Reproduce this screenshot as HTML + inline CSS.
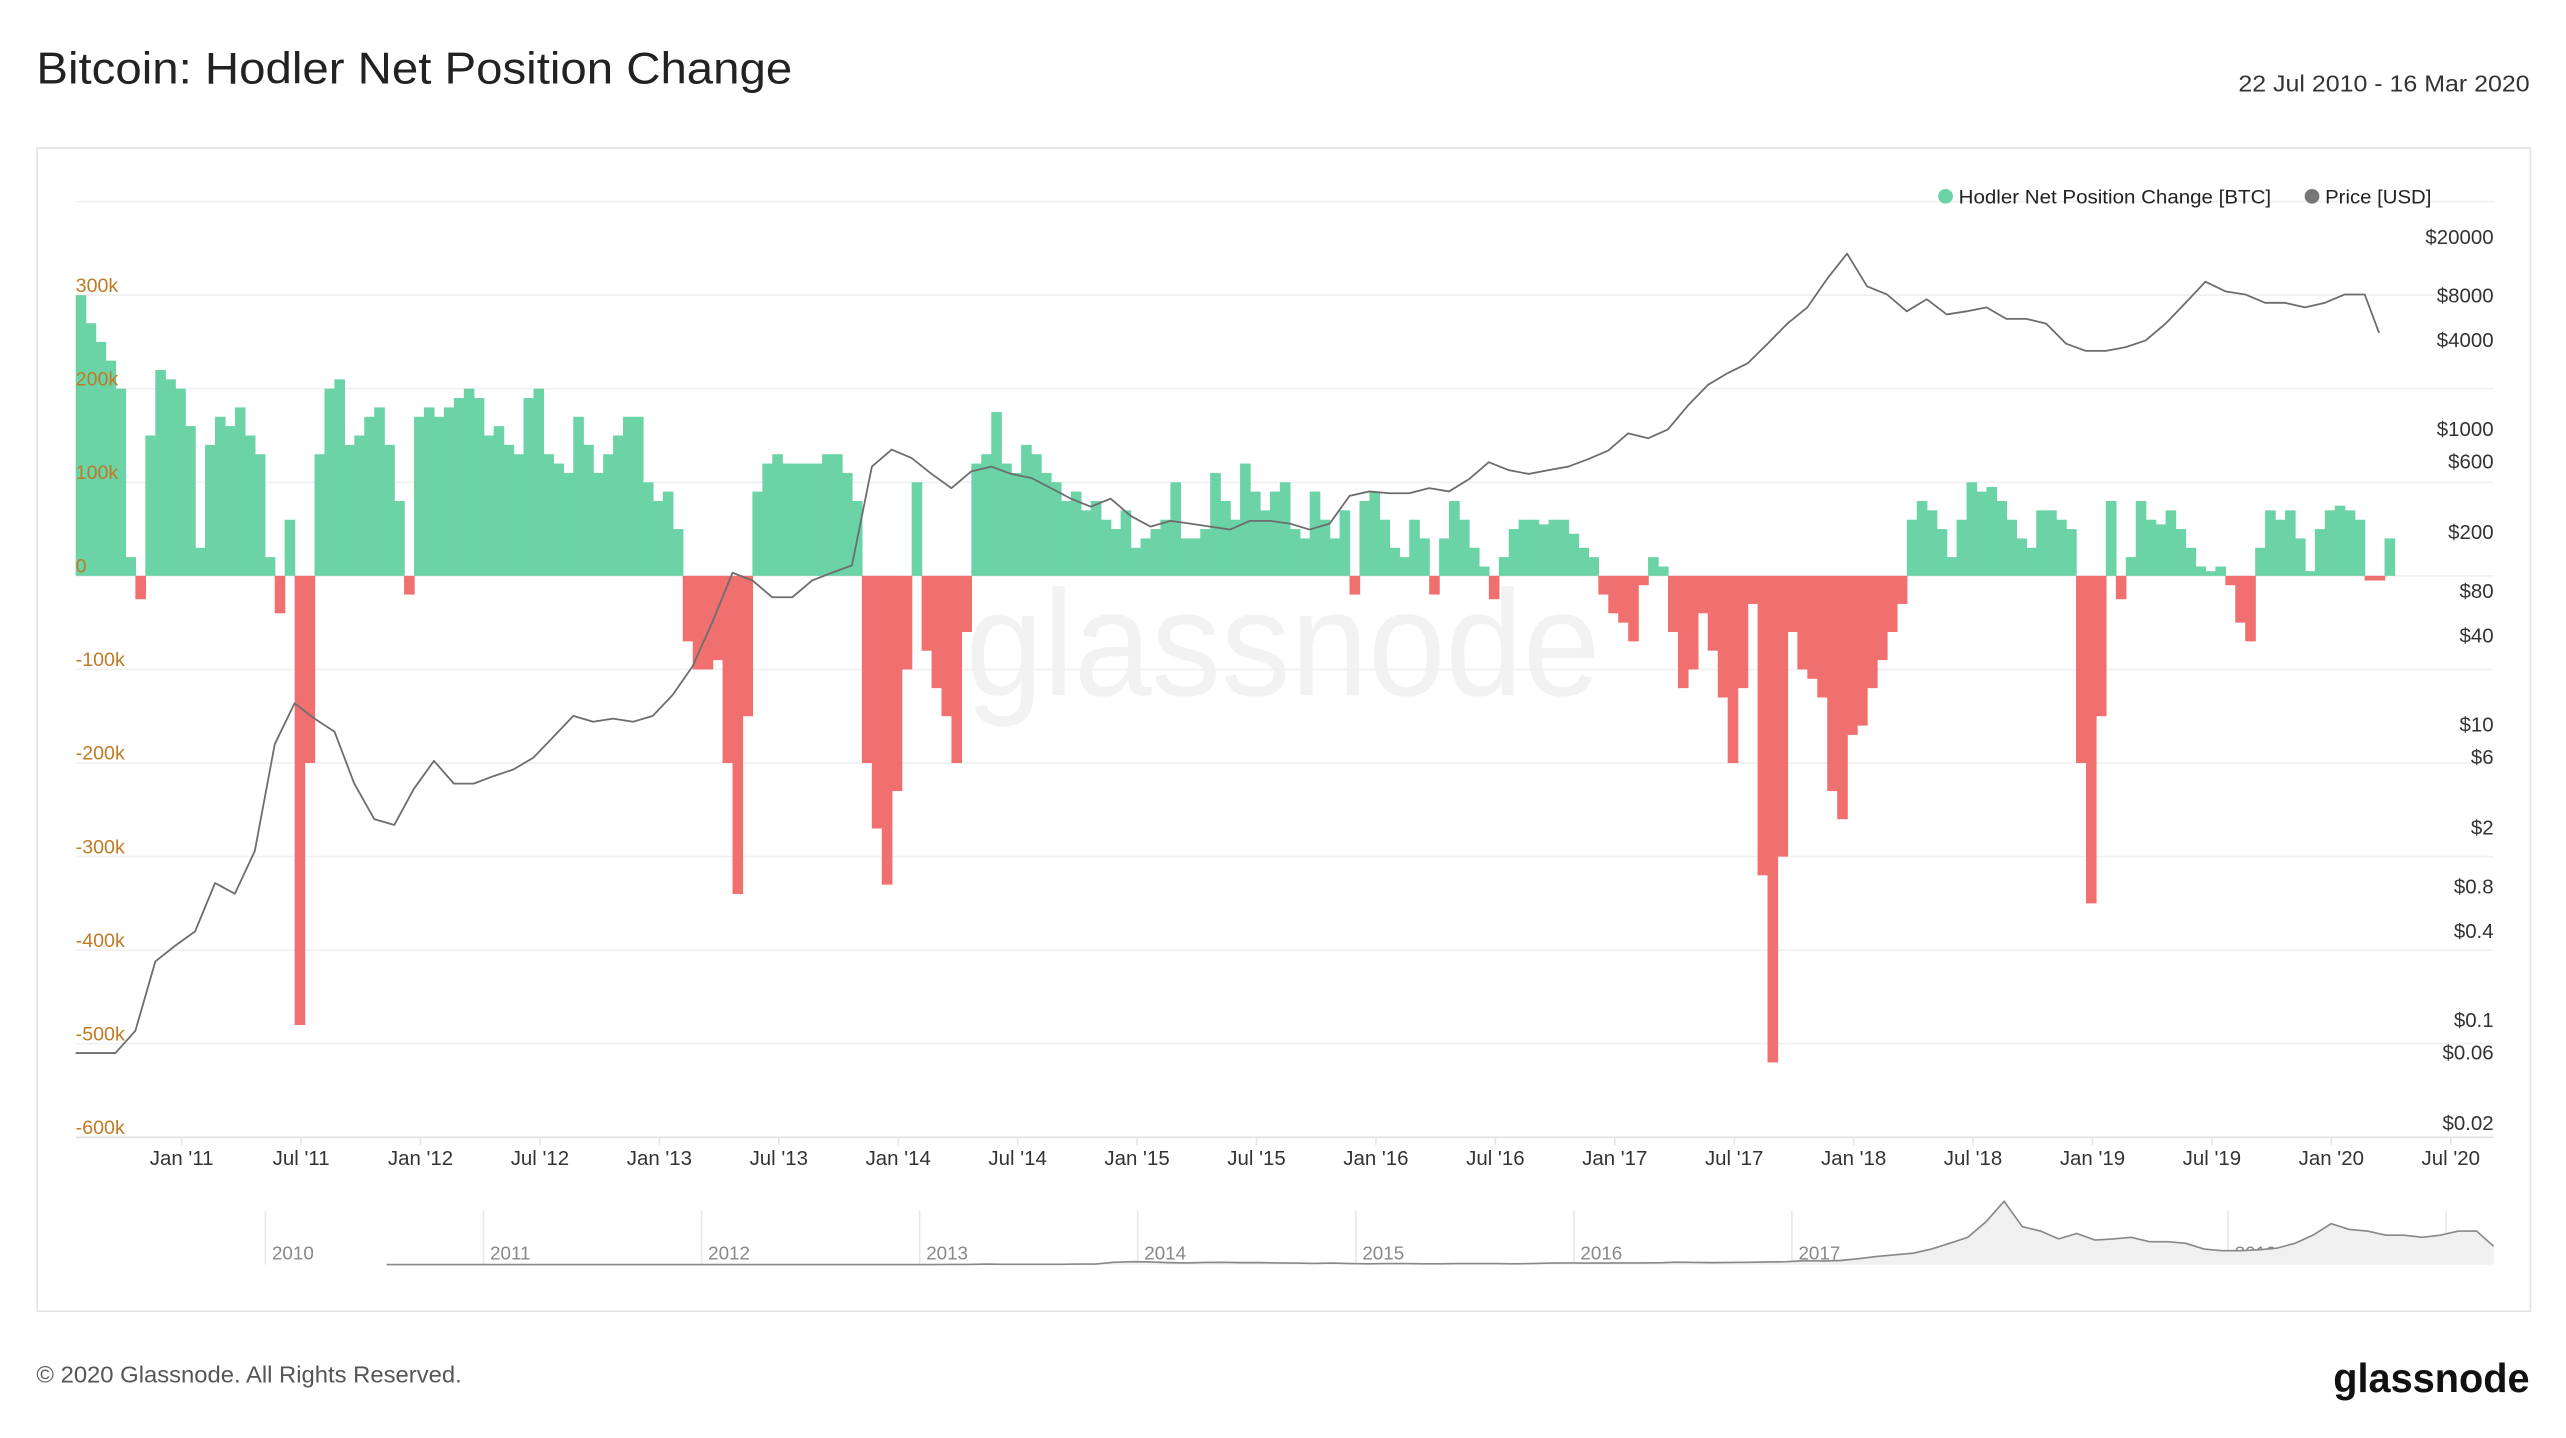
<!DOCTYPE html>
<html><head><meta charset="utf-8"><style>
html,body{margin:0;padding:0;background:#fff;}
svg{display:block;font-family:"Liberation Sans",sans-serif;}
</style></head><body>
<svg id="chart" width="2566" height="1438" viewBox="0 0 1568 879" xmlns="http://www.w3.org/2000/svg">
<rect x="0" y="0" width="1568" height="879" fill="#fff"/>
<text x="22" y="51" font-size="27" fill="#222" textLength="462" lengthAdjust="spacingAndGlyphs">Bitcoin: Hodler Net Position Change</text>
<text x="1368" y="56" font-size="14" fill="#333" textLength="178" lengthAdjust="spacingAndGlyphs">22 Jul 2010 - 16 Mar 2020</text>
<rect x="22.5" y="90.5" width="1524" height="711" fill="none" stroke="#e3e3e3"/>
<text x="590" y="425" font-size="92" fill="#f2f2f2" textLength="388" lengthAdjust="spacingAndGlyphs">glassnode</text>
<g id="grid"></g>
<g id="bars"></g>
<g id="price"></g>
<g id="axes"></g>
<g>
<circle cx="1189" cy="120" r="4.5" fill="#6bd3a6"/>
<text x="1197" y="124.5" font-size="12" fill="#222" textLength="191" lengthAdjust="spacingAndGlyphs">Hodler Net Position Change [BTC]</text>
<circle cx="1413" cy="120" r="4.5" fill="#777"/>
<text x="1421" y="124.5" font-size="12" fill="#222" textLength="65" lengthAdjust="spacingAndGlyphs">Price [USD]</text>
</g>
<g id="nav"></g>
<text x="22" y="845" font-size="14" fill="#555" textLength="260" lengthAdjust="spacingAndGlyphs">© 2020 Glassnode. All Rights Reserved.</text>
<text x="1426" y="851" font-size="25" font-weight="bold" fill="#111" textLength="120" lengthAdjust="spacingAndGlyphs">glassnode</text>
</svg>
<script>
// Hodler net position change (k BTC), half-month steps from 22 Jul 2010
const hodlerValues = [300,270,250,230,200,20,-25,150,220,210,
200,160,30,140,170,160,180,150,130,20,
-40,60,-480,-200,130,200,210,140,150,170,
180,140,80,-20,170,180,170,180,190,200,
190,150,160,140,130,190,200,130,120,110,
170,140,110,130,150,170,170,100,80,90,
50,-70,-100,-100,-90,-200,-340,-150,90,120,
130,120,120,120,120,130,130,110,80,-200,
-270,-330,-230,-100,100,-80,-120,-150,-200,-60,
120,130,175,120,110,140,130,110,100,80,
90,70,80,60,50,70,30,40,50,60,
100,40,40,50,110,80,60,120,90,70,
90,100,50,40,90,60,40,70,-20,80,
90,60,30,20,60,40,-20,40,80,60,
30,10,-25,20,50,60,60,55,60,60,
45,30,20,-20,-40,-50,-70,-10,20,10,
-60,-120,-100,-40,-80,-130,-200,-120,-30,-320,
-520,-300,-60,-100,-110,-130,-230,-260,-170,-160,
-120,-90,-60,-30,60,80,70,50,20,60,
100,90,95,80,60,40,30,70,70,60,
50,-200,-350,-150,80,-25,20,80,60,55,
70,50,30,10,5,10,-10,-50,-70,30,
70,60,70,40,5,50,70,75,70,60,
-5,-5,40];
// BTC price (USD), monthly from Jul 2010
const priceValues = [0.06,0.06,0.06,0.085,0.25,0.32,0.4,0.85,0.72,1.4,
7.4,14,11,9,4,2.3,2.1,3.7,5.7,4,
4,4.5,5,6,8.3,11.5,10.5,11,10.5,11.5,
16,25,50,107,95,73,73,95,107,120,
560,730,640,500,400,520,560,500,470,400,
340,300,340,260,220,240,230,220,210,240,
240,230,210,230,355,380,370,370,400,380,
460,600,530,500,530,560,630,720,940,870,
1000,1450,2000,2400,2800,3800,5200,6700,10500,15500,
9300,8200,6300,7600,6000,6300,6700,5600,5600,5200,
3800,3400,3400,3600,4000,5200,7200,10000,8600,8200,
7200,7200,6700,7200,8200,8200,4500];
const leftTicks = [300,200,100,0,-100,-200,-300,-400,-500,-600];
const leftTickLabels = ["300k","200k","100k","0","-100k","-200k","-300k","-400k","-500k","-600k"];
const rightTicks = [20000,8000,4000,1000,600,200,80,40,10,6,2,0.8,0.4,0.1,0.06,0.02];
const rightTickLabels = ["$20000","$8000","$4000","$1000","$600","$200","$80","$40","$10","$6","$2","$0.8","$0.4","$0.1","$0.06","$0.02"];
const xTickLabels = ["Jan '11","Jul '11","Jan '12","Jul '12","Jan '13","Jul '13","Jan '14","Jul '14","Jan '15","Jul '15","Jan '16","Jul '16","Jan '17","Jul '17","Jan '18","Jul '18","Jan '19","Jul '19","Jan '20","Jul '20"];
const navYears = ["2010","2011","2012","2013","2014","2015","2016","2017","2018","2019","2..."];

const NS="http://www.w3.org/2000/svg";
function mk(tag,attrs,parent){const e=document.createElementNS(NS,tag);for(const k in attrs)e.setAttribute(k,attrs[k]);parent.appendChild(e);return e;}
const X0=46, PX_YEAR=146, START=2010+203/365;
function xYear(yr){return X0+(yr-START)*PX_YEAR;}
function xHalf(i){return xYear(START+i/24);}
function xMonth(i){return xYear(START+i/12);}
function yLeft(v){return 352-v*0.572;}
function yRight(p){return 145+(Math.log10(20000)-Math.log10(p))*90.3;}

const grid=document.getElementById('grid');
for(let i=-1;i<leftTicks.length;i++){
  const v=i<0?400:leftTicks[i];
  const l=mk('line',{x1:46,x2:1524,y1:yLeft(v),y2:yLeft(v),stroke:i==leftTicks.length-1?'#e0e0e0':'#f0f0f0','stroke-width':1},grid);
  
  
}
const bars=document.getElementById('bars');
const step=PX_YEAR/24;
hodlerValues.forEach((v,i)=>{
  const x=xHalf(i), y0=yLeft(0), y1=yLeft(v);
  const r=mk('rect',{x:x,y:Math.min(y0,y1),width:step+0.4,height:Math.abs(y1-y0),fill:v>=0?'#6bd3a6':'#f07070'},bars);
  
  
});
const pg=document.getElementById('price');
let d='';
priceValues.forEach((p,i)=>{d+=(i?'L':'M')+Math.min(xMonth(i),1454).toFixed(1)+','+yRight(p).toFixed(1);});
const pl=mk('path',{d:d,fill:'none',stroke:'#6d6d6d','stroke-width':1.1,'stroke-linejoin':'round'},pg);



const axes=document.getElementById('axes');
leftTicks.forEach((v,i)=>{
  const t=mk('text',{x:46,y:yLeft(v)-2,'font-size':12,fill:'#c07a24'},axes);
  t.textContent=leftTickLabels[i];
  
  
});
rightTicks.forEach((p,i)=>{
  const t=mk('text',{x:1524,y:yRight(p)+4,'font-size':12.5,fill:'#333','text-anchor':'end'},axes);
  t.textContent=rightTickLabels[i];
  
  
});
xTickLabels.forEach((s,i)=>{
  const x=xYear(2011+i/2);
  const tk=mk('line',{x1:x,x2:x,y1:695,y2:700,stroke:'#e6e6e6'},axes);
  
  
  const t=mk('text',{x:x,y:712,'font-size':12.5,fill:'#333','text-anchor':'middle'},axes);
  t.textContent=s;
  
  
});
const nav=document.getElementById('nav');
const NX0=162, NYR=133.3;
function nx(yr){return NX0+(yr-2010)*NYR;}
navYears.forEach((s,i)=>{
  const x=nx(2010+i);
  const l=mk('line',{x1:x,x2:x,y1:740,y2:773,stroke:'#e8e8e8'},nav);
  
  
  const t=mk('text',{x:x+4,y:770,'font-size':11.5,fill:'#888'},nav);
  t.textContent=s;
  
  
});
let nd='', na='';
priceValues.forEach((p,i)=>{const x=Math.min(nx(START+i/12),1524),y=773-p/20000*50;nd+=(i?'L':'M')+x.toFixed(1)+','+y.toFixed(1);});
na=nd+'L1524,773L'+nx(START).toFixed(1)+',773Z';
const nar=mk('path',{d:na,fill:'#f0f0f0',stroke:'none'},nav);


const nl=mk('path',{d:nd,fill:'none',stroke:'#888','stroke-width':1},nav);


</script>
</body></html>
